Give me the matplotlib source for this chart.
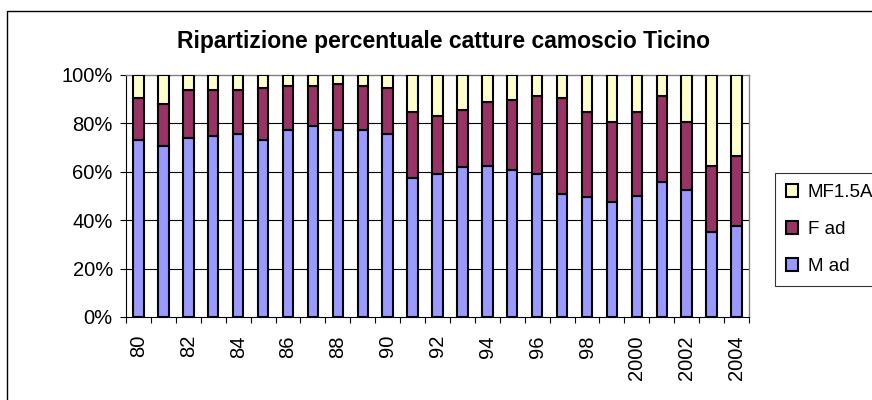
import matplotlib
matplotlib.use("Agg")
import matplotlib.pyplot as plt
import matplotlib.patches as mpatches
import numpy as np

plt.rcParams['font.family'] = ['Liberation Sans', 'DejaVu Sans']

years = ["80", "81", "82", "83", "84", "85", "86", "87", "88", "89",
         "90", "91", "92", "93", "94", "95", "96", "97", "98", "99",
         "2000", "2001", "2002", "2003", "2004"]
m_ad = [73.2, 70.7, 73.9, 74.8, 75.7, 73.2, 77.3, 79.0, 77.3, 77.3,
        75.7, 57.6, 59.1, 61.8, 62.4, 60.8, 59.1, 50.9, 49.4, 47.6,
        50.2, 55.8, 52.5, 35.2, 37.8]
f_ad = [17.2, 17.5, 19.9, 19.0, 18.1, 21.4, 18.2, 16.5, 19.0, 18.2,
        18.9, 27.1, 24.0, 23.8, 26.6, 28.9, 32.4, 39.7, 35.5, 33.0,
        34.7, 35.7, 28.1, 27.2, 28.8]
mf15a = [100 - a - b for a, b in zip(m_ad, f_ad)]
series_labels = ["M ad", "F ad", "MF1.5A"]
colors = ["#9999FF", "#993366", "#FFFFCC"]
yticks = [0, 20, 40, 60, 80, 100]

W, H = 872, 400
fig = plt.figure(figsize=(W / 100, H / 100), dpi=100)
ax = fig.add_axes([126 / W, 1 - 317 / H, (749 - 126) / W, (317 - 75) / H])

x = np.arange(len(years))
bottom = np.zeros(len(years))
handles = []
for vals, lab, col in zip([m_ad, f_ad, mf15a], series_labels, colors):
    b = ax.bar(x, vals, width=0.42, bottom=bottom, color=col,
               edgecolor="black", linewidth=1.5, label=lab, zorder=3)
    bottom = bottom + np.array(vals)
    handles.append(b)

ax.set_xlim(-0.5, len(years) - 0.5)
ax.set_ylim(0, 100)
ax.set_yticks(yticks)
ax.set_yticklabels([f"{v}%" for v in yticks], fontsize=14.5)
for v in yticks[1:-1]:
    ax.axhline(v, color="black", linewidth=0.8, zorder=1)

ax.set_xticks(x[::2])
ax.set_xticklabels(years[::2], rotation=90, fontsize=14.5)
ax.tick_params(axis="x", which="major", length=0, pad=13)
ax.set_xticks(np.arange(-0.5, len(years), 1.0), minor=True)
ax.tick_params(axis="x", which="minor", length=4.5, direction="out", width=0.8)
ax.tick_params(axis="y", length=4.5, direction="out", width=0.8, pad=5)

for s in ["top", "right"]:
    ax.spines[s].set_color("#808080")
    ax.spines[s].set_linewidth(1.0)
for s in ["left", "bottom"]:
    ax.spines[s].set_color("black")
    ax.spines[s].set_linewidth(0.8)

fig.text(443 / W, 1 - 48 / H, "Ripartizione percentuale catture camoscio Ticino",
         ha="center", va="baseline", fontsize=16.5, fontweight="bold")

leg = fig.legend(handles[::-1], series_labels[::-1], loc="upper left",
                 bbox_to_anchor=(775 / W, 1 - 173 / H), borderaxespad=0,
                 fontsize=13.5, frameon=True, fancybox=False, edgecolor="black",
                 handlelength=0.6, handleheight=0.7, handletextpad=0.55,
                 labelspacing=1.05, borderpad=0.6)
leg.get_frame().set_linewidth(0.8)

border = mpatches.Rectangle((7 / W, -0.1), 2, 1.1 - 11 / H, transform=fig.transFigure,
                            fill=False, edgecolor="black", linewidth=1.0)
fig.patches.append(border)

fig.savefig("out.png", dpi=100)
